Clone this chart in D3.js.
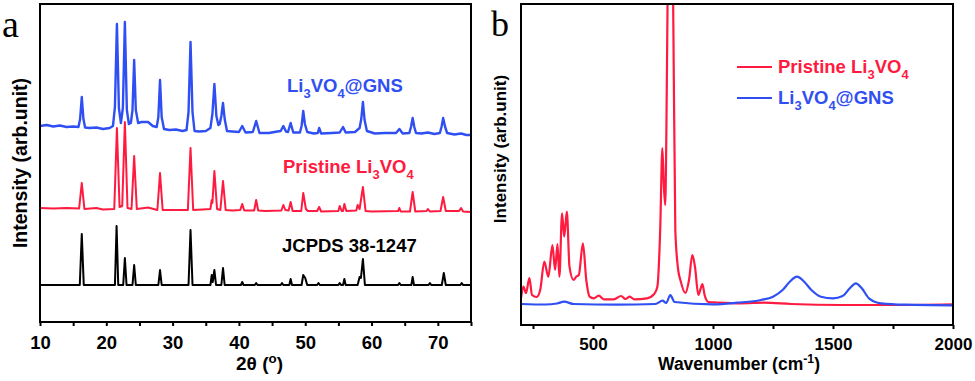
<!DOCTYPE html>
<html><head><meta charset="utf-8">
<script src="https://cdn.jsdelivr.net/npm/d3@7"></script>
<style>
body{margin:0;background:#fff}
svg{display:block}
text{font-family:Arial,"Liberation Sans",sans-serif;font-weight:bold}
text.panel{font-family:"Times New Roman","Liberation Serif",serif;font-weight:normal}
</style>
</head><body>
<svg id="chart" width="975" height="381"></svg>
<script>
// ---------------- DATA ----------------
// Panel a: XRD patterns, [2theta (deg), intensity (arb.)]
const xrdTickValues = [10,15,20,25,30,35,40,45,50,55,60,65,70,75];
const xrdTickLabels = [10,20,30,40,50,60,70];

const jcpdsPattern = [[10,37],[16.0,37],[16.3,88],[16.6,37],[21.3,37],[21.55,96],[21.8,37],[22.55,37],[22.8,64],[23.05,37],[23.95,37],[24.2,57],[24.45,37],[27.85,37],[28.1,52],[28.35,37],[32.4,37],[32.7,92],[33.0,37],[35.7,37],[35.9,47],[36.05,40],[36.3,52],[36.55,37],[37.35,37],[37.6,54],[37.85,37],[40.3,37],[40.5,40],[40.7,37],[42.4,37],[42.6,39],[42.8,37],[46.3,37],[46.5,39],[46.7,37],[47.6,37],[47.8,43],[48.0,37],[49.45,37],[49.7,47],[50.0,44],[50.3,37],[51.8,37],[52.0,39],[52.2,37],[55.0,37],[55.2,39],[55.4,37],[55.7,37],[55.9,43],[56.1,37],[57.9,37],[58.2,45],[58.4,44],[58.7,63],[59.0,37],[64.0,37],[64.2,39],[64.4,37],[66.0,37],[66.2,45],[66.4,37],[68.6,37],[68.8,39],[69.0,37],[70.6,37],[70.9,49],[71.2,37],[73.4,37],[73.6,39],[73.8,37],[75,37]];

const pristinePattern = [[10,114],[12,113.5],[14,114],[15.9,113.5],[16.3,139],[16.7,113],[18.5,114],[19.5,112.5],[21.2,113],[21.6,194],[22.0,115],[22.4,116],[22.8,200],[23.2,114],[23.8,113],[24.2,166],[24.6,113],[26.3,114.5],[27.7,112],[28.1,149],[28.5,112],[30,112],[32.3,112],[32.7,174],[33.1,112],[34.5,112.5],[35.7,113],[35.9,122],[36.0,119],[36.3,151],[36.7,113],[37.2,112],[37.6,141],[38.0,112],[39.0,111.5],[40.2,112],[40.5,118],[40.8,111.5],[42.3,111.5],[42.6,122],[42.9,111.5],[44,111],[46.4,111.5],[46.7,117],[47.0,112],[47.5,111.5],[47.8,120],[48.1,111],[49.4,111],[49.7,129],[50.1,113],[50.4,111],[51.8,111],[52.1,115],[52.4,110.5],[55.0,111],[55.2,116],[55.5,111],[55.7,111],[55.9,118],[56.2,111],[57.7,111.5],[57.9,117],[58.2,113],[58.7,135],[59.1,111],[60,110.5],[64.0,111],[64.2,114],[64.4,110.5],[65.8,110.5],[66.2,130],[66.6,110.5],[68.3,111],[68.5,113],[68.8,110.5],[70.4,111],[70.8,125],[71.2,111],[73.2,111],[73.5,114],[73.8,110.5],[75,110]];

const gnsPattern = [[10,196],[11,197],[12,195.5],[13,196.5],[14,195],[15,195.5],[15.8,195],[16.05,203],[16.3,225],[16.55,203],[16.8,194.5],[17.5,194],[18.5,194.5],[19.5,193],[20.5,194],[21.0,196],[21.3,215],[21.6,298],[21.9,214],[22.2,199],[22.5,214],[22.8,300],[23.1,212],[23.4,198],[23.7,199],[23.95,212],[24.2,262],[24.45,212],[24.8,199],[25.3,200],[26.3,200],[27.0,196],[27.6,195],[27.85,205],[28.1,242],[28.35,205],[28.7,193],[29.5,192],[30.5,192.5],[31.5,191],[32.1,192],[32.4,210],[32.7,280],[33.0,210],[33.3,191],[34,190.5],[35,191],[35.7,194],[36.0,208],[36.3,238],[36.6,206],[36.9,197],[37.1,198],[37.35,206],[37.6,219],[37.85,203],[38.2,191],[39,190.5],[40.0,190],[40.5,196],[41.0,189.5],[42.1,190],[42.6,201],[43.1,189],[44.5,189],[45.8,190.5],[46.3,191],[46.7,196],[47.1,190.5],[47.4,190],[47.8,199],[48.2,189.5],[49.2,189.5],[49.45,196],[49.7,211],[49.95,198],[50.3,190],[51.3,188.5],[51.9,189],[52.1,194],[52.4,188.5],[54,189],[55.2,189.5],[55.7,195],[56.1,189.5],[57.5,190],[58.2,194],[58.45,203],[58.7,220],[58.95,202],[59.3,191],[60.5,188.5],[62,189],[63.7,189],[64.2,193],[64.7,188.5],[65.7,189],[65.95,195],[66.2,204],[66.45,195],[66.7,189],[67.5,188.5],[68.5,189.5],[69.5,188],[70.3,189],[70.55,195],[70.8,204],[71.1,195],[71.4,189],[72.5,187.5],[73.5,188.5],[74.3,187],[75,187]];

// Panel b: Raman spectra, [wavenumber (cm-1), intensity (arb.)]
const ramanTickValues = [250,500,750,1000,1250,1500,1750,2000];
const ramanTickLabels = [500,1000,1500,2000];

const pristineRaman = [[200,26.7],[210,38.3],[221,32],[235,47],[246,30],[265,28],[280,35],[297,63.3],[314,48.3],[331,80],[342,55],[352,81],[360,48.3],[371,111.7],[380,88.3],[391,113.3],[402,58.3],[419,45],[430,48.3],[441,50],[458,81.7],[472,45],[486,28.3],[503,26.7],[524,29.3],[545,25.7],[587,25.7],[617,29],[635,26],[653,28.3],[672,25.7],[725,26.7],[755,31],[768,38],[780,95],[789,177],[795,140],[801,120],[806,200],[811,330],[818,400],[826,400],[834,321],[843,95],[855,55],[864,45],[885,32],[900,45],[914,70],[925,58],[939,30],[948,36],[956,41],[965,30],[981,23],[1018,22.5],[1116,21.7],[1213,22.3],[1325,21],[1534,20],[1743,20],[2000,20.7]];

const gnsRaman = [[200,21],[300,20.5],[350,21.5],[380,23.3],[420,21],[600,20.3],[760,21],[790,24.3],[805,22],[822,30],[840,23],[1000,20.7],[1100,22.3],[1200,25],[1250,28.3],[1290,35],[1320,43.3],[1350,48.3],[1380,43.3],[1410,35],[1450,28.3],[1500,26.7],[1540,29],[1570,36.7],[1595,41.7],[1620,36.7],[1650,26.7],[1700,21.7],[1800,20.3],[2000,19.7]];

const RED = "#ff1a40";
const BLUE = "#2f4ff2";

// ---------------- DRAW ----------------
const svg = d3.select("#chart");

function subText(sel, parts, size) {
  let state = "n";
  parts.forEach(([t, kind]) => {
    let dy = 0;
    const off = size * 0.32;
    if (state === "n" && kind === "sub") dy = off;
    else if (state === "sub" && kind === "n") dy = -off;
    else if (state === "n" && kind === "sup") dy = -off * 1.2;
    else if (state === "sup" && kind === "n") dy = off * 1.2;
    sel.append("tspan").attr("dy", dy)
      .attr("font-size", kind === "n" ? size : size * 0.7).text(t);
    state = kind;
  });
}

// ---- Panel a ----
const A = {l:40, r:471, t:4, b:322};
const xa = d3.scaleLinear().domain([10,75]).range([A.l, A.r]);
const ya = d3.scaleLinear().domain([0,318]).range([A.b, A.t]);
const ga = svg.append("g");

const lineA = d3.line().x(d => xa(d[0])).y(d => ya(d[1]));
[[jcpdsPattern,"#000",2],[pristinePattern,RED,2],[gnsPattern,BLUE,2.4]].forEach(([d,c,w]) => {
  ga.append("path").attr("d", lineA(d)).attr("fill","none")
    .attr("stroke", c).attr("stroke-width", w).attr("stroke-linejoin","round");
});

const axA = d3.axisBottom(xa).tickValues(xrdTickValues).tickSize(4).tickSizeOuter(0)
  .tickFormat(d => xrdTickLabels.includes(d) ? d : "");
const gaxA = ga.append("g").attr("transform", `translate(0,${A.b})`).call(axA);
gaxA.select(".domain").remove();
gaxA.selectAll(".tick line").attr("stroke","#000").attr("stroke-width",2);
gaxA.selectAll(".tick text").attr("font-size",18.5).attr("font-family",null)
  .attr("fill","#000").attr("dy",null).attr("y",27);

ga.append("rect").attr("x",A.l).attr("y",A.t).attr("width",A.r-A.l).attr("height",A.b-A.t)
  .attr("fill","none").attr("stroke","#000").attr("stroke-width",2);

subText(ga.append("text").attr("x",287).attr("y",92).attr("fill",BLUE),
  [["Li","n"],["3","sub"],["VO","n"],["4","sub"],["@GNS","n"]], 18.5);
subText(ga.append("text").attr("x",283).attr("y",173).attr("fill",RED),
  [["Pristine Li","n"],["3","sub"],["VO","n"],["4","sub"]], 18.5);
ga.append("text").attr("x",282).attr("y",252).attr("fill","#000").attr("font-size",18.5).text("JCPDS 38-1247");

subText(ga.append("text").attr("x",(A.l+A.r)/2 + 4).attr("y",370).attr("text-anchor","middle").attr("fill","#000"),
  [["2θ (","n"],["o","sup"],[")","n"]], 19);
ga.append("text").attr("transform","translate(27,163) rotate(-90)").attr("text-anchor","middle")
  .attr("font-size",19.5).attr("fill","#000").text("Intensity (arb.unit)");
ga.append("text").attr("class","panel").attr("x",2).attr("y",37)
  .attr("font-size",38).attr("fill","#000").text("a");

// ---- Panel b ----
const B = {l:521, r:953, t:4, b:325};
const xb = d3.scaleLinear().domain([200,2000]).range([B.l, B.r]);
const yb = d3.scaleLinear().domain([0,321]).range([B.b, B.t]);
const gb = svg.append("g");
svg.append("defs").append("clipPath").attr("id","clipB").append("rect")
  .attr("x",B.l).attr("y",B.t).attr("width",B.r-B.l).attr("height",B.b-B.t);

const lineB = d3.line().x(d => xb(d[0])).y(d => yb(d[1])).curve(d3.curveMonotoneX);
const plotB = gb.append("g").attr("clip-path","url(#clipB)");
[[pristineRaman,RED],[gnsRaman,BLUE]].forEach(([d,c]) => {
  plotB.append("path").attr("d", lineB(d)).attr("fill","none")
    .attr("stroke", c).attr("stroke-width", 2.2).attr("stroke-linejoin","round");
});

const axB = d3.axisBottom(xb).tickValues(ramanTickValues).tickSize(4).tickSizeOuter(0)
  .tickFormat(d => ramanTickLabels.includes(d) ? d : "");
const gaxB = gb.append("g").attr("transform", `translate(0,${B.b})`).call(axB);
gaxB.select(".domain").remove();
gaxB.selectAll(".tick line").attr("stroke","#000").attr("stroke-width",2);
gaxB.selectAll(".tick text").attr("font-size",17).attr("font-family",null)
  .attr("fill","#000").attr("dy",null).attr("y",25);

gb.append("rect").attr("x",B.l).attr("y",B.t).attr("width",B.r-B.l).attr("height",B.b-B.t)
  .attr("fill","none").attr("stroke","#000").attr("stroke-width",2);

const legend = [[RED, [["Pristine Li","n"],["3","sub"],["VO","n"],["4","sub"]]],
                [BLUE, [["Li","n"],["3","sub"],["VO","n"],["4","sub"],["@GNS","n"]]]];
legend.forEach(([c,parts],i) => {
  const y = 67 + i*31;
  gb.append("line").attr("x1",737).attr("x2",772).attr("y1",y).attr("y2",y)
    .attr("stroke",c).attr("stroke-width",2.2);
  subText(gb.append("text").attr("x",778).attr("y",y+6).attr("fill",c), parts, 18.5);
});

subText(gb.append("text").attr("x",(B.l+B.r)/2 + 2).attr("y",370).attr("text-anchor","middle").attr("fill","#000"),
  [["Wavenumber (cm","n"],["-1","sup"],[")","n"]], 17.5);
gb.append("text").attr("transform","translate(506,149) rotate(-90)").attr("text-anchor","middle")
  .attr("font-size",17).attr("fill","#000").text("Intensity (arb.unit)");
gb.append("text").attr("class","panel").attr("x",491).attr("y",36)
  .attr("font-size",36).attr("fill","#000").text("b");
</script>
</body></html>
